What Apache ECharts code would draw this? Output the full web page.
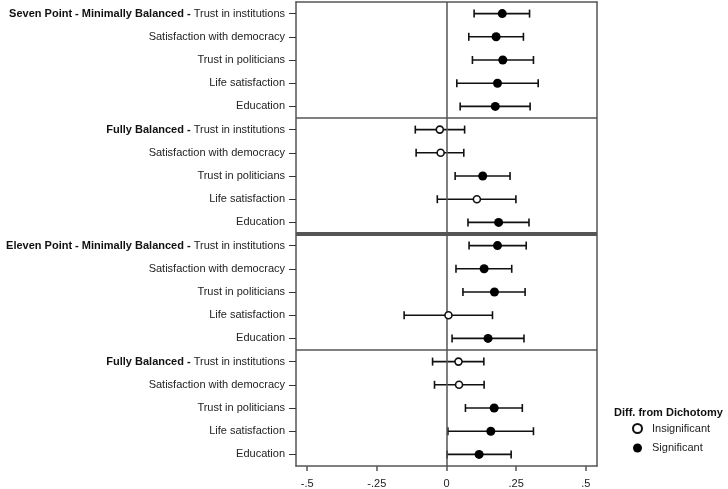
<!DOCTYPE html>
<html>
<head>
<meta charset="utf-8">
<script src="https://cdn.jsdelivr.net/npm/echarts@6/dist/echarts.min.js"></script>
<style>html,body{margin:0;padding:0;background:#fff;}#c{width:728px;height:489px;}</style>
</head>
<body>
<div id="c"></div>
<script>
// ---- data ----
var groupLabels = ["Seven Point - Minimally Balanced", "", "", "", "",
                   "Fully Balanced", "", "", "", "",
                   "Eleven Point - Minimally Balanced", "", "", "", "",
                   "Fully Balanced", "", "", "", ""];
var itemLabels = ["Trust in institutions", "Satisfaction with democracy", "Trust in politicians", "Life satisfaction", "Education",
                  "Trust in institutions", "Satisfaction with democracy", "Trust in politicians", "Life satisfaction", "Education",
                  "Trust in institutions", "Satisfaction with democracy", "Trust in politicians", "Life satisfaction", "Education",
                  "Trust in institutions", "Satisfaction with democracy", "Trust in politicians", "Life satisfaction", "Education"];
var estimates = [0.200, 0.178, 0.202, 0.183, 0.175,
                 -0.024, -0.021, 0.130, 0.109, 0.187,
                 0.183, 0.135, 0.172, 0.007, 0.149,
                 0.043, 0.045, 0.171, 0.159, 0.117];
var lower = [0.099, 0.080, 0.093, 0.037, 0.049,
             -0.112, -0.109, 0.031, -0.033, 0.077,
             0.081, 0.034, 0.059, -0.152, 0.020,
             -0.050, -0.043, 0.068, 0.005, 0.002];
var upper = [0.298, 0.276, 0.312, 0.329, 0.300,
             0.065, 0.062, 0.228, 0.249, 0.296,
             0.286, 0.234, 0.282, 0.165, 0.278,
             0.134, 0.135, 0.272, 0.312, 0.232];
var significant = [1, 1, 1, 1, 1,
                   0, 0, 1, 0, 1,
                   1, 1, 1, 0, 1,
                   0, 0, 1, 1, 1];
var xTickValues = [-0.5, -0.25, 0, 0.25, 0.5];
var xTickLabels = ["-.5", "-.25", "0", ".25", ".5"];
var legendTitle = "Diff. from Dichotomy";
var legendNames = ["Insignificant", "Significant"];
var groupBreaks = [5, 10, 15];

// ---- build ----
var categories = itemLabels.map(function (s, i) { return String(i); });
var ciData = [], sigData = [], insData = [];
for (var i = 0; i < estimates.length; i++) {
  ciData.push([lower[i], upper[i], i]);
  if (significant[i]) sigData.push([estimates[i], i]); else insData.push([estimates[i], i]);
}
var FONT = '"Liberation Sans", Arial, Helvetica, sans-serif';
var frame = '#555';

var chart = echarts.init(document.getElementById('c'), null, {renderer: 'canvas'});
chart.setOption({
  animation: false,
  textStyle: {fontFamily: FONT},
  grid: {left: 296, right: 131, top: 2, bottom: 23, containLabel: false},
  xAxis: [{
    type: 'value', min: -0.54, max: 0.54, position: 'bottom',
    axisLine: {show: true, onZero: false, lineStyle: {color: frame, width: 1.5}},
    axisTick: {show: true, length: 5, customValues: xTickValues, lineStyle: {color: frame, width: 1.5}},
    axisLabel: {customValues: xTickValues, margin: 12, fontSize: 11, color: '#222', fontFamily: FONT,
      formatter: function (v) { var k = xTickValues.indexOf(v); return k >= 0 ? xTickLabels[k] : ''; }},
    splitLine: {show: false}
  }, {
    type: 'value', min: -0.54, max: 0.54, position: 'top',
    axisLine: {show: true, onZero: false, lineStyle: {color: frame, width: 1.5}},
    axisTick: {show: false}, axisLabel: {show: false}, splitLine: {show: false}
  }],
  yAxis: [{
    type: 'category', data: categories, inverse: true, position: 'left',
    axisLine: {show: true, onZero: false, lineStyle: {color: frame, width: 1.5}},
    axisTick: {show: true, length: 7, alignWithLabel: true, lineStyle: {color: '#333', width: 1}},
    axisLabel: {margin: 11, fontSize: 11, color: '#222', fontFamily: FONT,
      formatter: function (v) {
        var i = +v;
        return groupLabels[i] ? '{b|' + groupLabels[i] + ' - }' + itemLabels[i] : itemLabels[i];
      },
      rich: {b: {fontWeight: 'bold', fontSize: 11, color: '#111', fontFamily: FONT}}
    },
    splitLine: {show: false}
  }, {
    type: 'value', min: 0, max: 20, inverse: true, position: 'right',
    axisLine: {show: true, onZero: false, lineStyle: {color: frame, width: 1.5}},
    axisTick: {show: false}, axisLabel: {show: false}, splitLine: {show: false}
  }],
  legend: {
    orient: 'vertical', left: 627, top: 418, itemWidth: 9, itemHeight: 9, itemGap: 8.5,
    textStyle: {fontSize: 11, color: '#222', fontFamily: FONT, padding: [0, 0, 0, 5]},
    data: legendNames
  },
  graphic: [{
    type: 'text', left: 614, top: 407,
    style: {text: legendTitle, font: 'bold 11px ' + FONT, fill: '#111'}
  }],
  series: [{
    type: 'line', xAxisIndex: 0, yAxisIndex: 1, data: [], silent: true, z: 1,
    markLine: {
      silent: true, symbol: ['none', 'none'], label: {show: false},
      data: [
        {yAxis: groupBreaks[0], lineStyle: {color: frame, width: 1.5, type: 'solid'}},
        {yAxis: groupBreaks[1], lineStyle: {color: frame, width: 4, type: 'solid'}},
        {yAxis: groupBreaks[2], lineStyle: {color: frame, width: 1.5, type: 'solid'}},
        {xAxis: 0, lineStyle: {color: frame, width: 1.5, type: 'solid'}}
      ]
    }
  }, {
    type: 'custom', xAxisIndex: 0, yAxisIndex: 0, z: 3, silent: true,
    encode: {x: [0, 1], y: 2},
    data: ciData,
    renderItem: function (params, api) {
      var a = api.coord([api.value(0), api.value(2)]);
      var b = api.coord([api.value(1), api.value(2)]);
      var h = 4;
      var st = {stroke: '#111', lineWidth: 1.6};
      return {type: 'group', children: [
        {type: 'line', shape: {x1: a[0], y1: a[1], x2: b[0], y2: b[1]}, style: st},
        {type: 'line', shape: {x1: a[0], y1: a[1] - h, x2: a[0], y2: a[1] + h}, style: st},
        {type: 'line', shape: {x1: b[0], y1: b[1] - h, x2: b[0], y2: b[1] + h}, style: st}
      ]};
    }
  }, {
    name: legendNames[0], type: 'scatter', xAxisIndex: 0, yAxisIndex: 0, z: 5,
    symbol: 'circle', symbolSize: 7,
    itemStyle: {color: '#fff', borderColor: '#111', borderWidth: 1.6, opacity: 1},
    data: insData
  }, {
    name: legendNames[1], type: 'scatter', xAxisIndex: 0, yAxisIndex: 0, z: 5,
    symbol: 'circle', symbolSize: 9,
    itemStyle: {color: '#000', borderWidth: 0, opacity: 1},
    data: sigData
  }]
});
</script>
</body>
</html>
